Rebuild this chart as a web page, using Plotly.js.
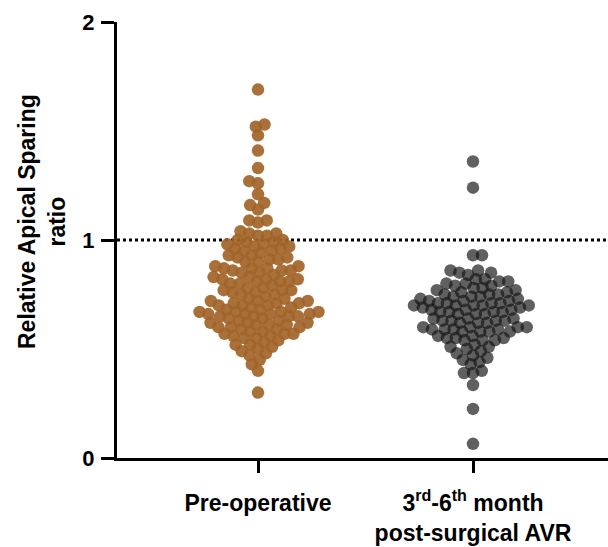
<!DOCTYPE html>
<html>
<head>
<meta charset="utf-8">
<script src="https://cdn.plot.ly/plotly-3.0.1.min.js"></script>
<style>html,body{margin:0;padding:0;background:#fff;}#chart{width:608px;height:547px;}</style>
</head>
<body>
<div id="chart"></div>
<script>
const categories = ['Pre-operative', '3rd-6th month post-surgical AVR'];
const tickLabels = ['<b>Pre-operative</b>', '<b>3<sup>rd</sup>-6<sup>th</sup> month</b><br><b>post-surgical AVR</b>'];
const yTickVals = [0, 1, 2];
const referenceLine = 1;

const preOperative = [
  1.69, 1.53, 1.52, 1.48, 1.41, 1.33, 1.27, 1.26, 1.21, 1.17, 1.16, 1.14, 1.09, 1.09, 1.08,
  1.04, 1.03, 1.03, 1.02, 1.02,
  1.00, 0.99, 0.99, 0.98, 0.98, 1.00,
  0.97, 0.96, 0.96, 0.95, 0.95, 0.97, 0.94,
  0.93, 0.92, 0.92, 0.91, 0.91, 0.90, 0.90, 0.93,
  0.88, 0.87, 0.87, 0.86, 0.86, 0.85, 0.85, 0.88, 0.84, 0.86, 0.87,
  0.83, 0.82, 0.82, 0.81, 0.81, 0.80, 0.80, 0.83, 0.79, 0.82, 0.81,
  0.78, 0.77, 0.77, 0.76, 0.76, 0.75, 0.75, 0.78, 0.74, 0.77,
  0.73, 0.72, 0.72, 0.71, 0.71, 0.70, 0.70, 0.73, 0.69, 0.72, 0.71, 0.70, 0.69,
  0.68, 0.67, 0.67, 0.66, 0.66, 0.65, 0.65, 0.68, 0.64, 0.67, 0.66, 0.65, 0.64, 0.66, 0.67, 0.65,
  0.63, 0.62, 0.62, 0.61, 0.61, 0.60, 0.60, 0.63, 0.59, 0.62, 0.61, 0.60, 0.59,
  0.58, 0.57, 0.57, 0.56, 0.56, 0.55, 0.55, 0.58, 0.54, 0.57,
  0.53, 0.52, 0.51, 0.50, 0.52, 0.49,
  0.48, 0.47, 0.45,
  0.43, 0.40, 0.30
];

const postSurgical = [
  1.36, 1.24, 0.93, 0.93,
  0.86, 0.85, 0.85, 0.84, 0.86,
  0.82, 0.81, 0.81, 0.80, 0.82, 0.80,
  0.79, 0.78, 0.78, 0.77, 0.79, 0.77,
  0.76, 0.75, 0.75, 0.74, 0.74, 0.73, 0.76, 0.75, 0.74, 0.73,
  0.72, 0.71, 0.71, 0.70, 0.70, 0.69, 0.72, 0.71, 0.70, 0.70, 0.69, 0.71, 0.72, 0.70,
  0.68, 0.67, 0.67, 0.66, 0.66, 0.68, 0.67, 0.66, 0.68, 0.67,
  0.64, 0.63, 0.63, 0.62, 0.62, 0.64, 0.63, 0.62, 0.64, 0.63,
  0.60, 0.59, 0.59, 0.58, 0.58, 0.60, 0.59, 0.58, 0.60, 0.59, 0.58, 0.60,
  0.56, 0.55, 0.55, 0.54, 0.54, 0.56, 0.55, 0.54,
  0.52, 0.51, 0.50, 0.49, 0.51,
  0.48, 0.47, 0.46,
  0.45, 0.44, 0.43,
  0.40, 0.39, 0.39,
  0.335, 0.225, 0.065
];

// Layout constants
const W = 608, H = 547;
const M = {l: 117, r: 0, t: 22, b: 89};
const plotW = W - M.l - M.r, plotH = H - M.t - M.b;
const yRange = [0, 2];
const xRange = [-0.656, 1.628];
const pxPerX = plotW / (xRange[1] - xRange[0]);
const pxPerY = plotH / (yRange[1] - yRange[0]);
const markerSize = 12.5;
const collide = 9;

// Beeswarm offsets computed from the values in pixel space
function swarm(vals) {
  const order = vals.map((v, i) => i).sort((a, b) => vals[a] - vals[b]);
  const placed = [];
  const xs = new Array(vals.length).fill(0);
  let flip = 1;
  for (const i of order) {
    const y = vals[i] * pxPerY;
    const iv = [];
    for (const p of placed) {
      const dy = Math.abs(p.y - y);
      if (dy < collide) {
        const dx = Math.sqrt(collide * collide - dy * dy);
        iv.push([p.x - dx, p.x + dx]);
      }
    }
    const cands = [0];
    iv.forEach(r => { cands.push(r[0], r[1]); });
    cands.sort((a, b) => (Math.abs(a) - Math.abs(b)) || (flip * (a - b)));
    let x = 0;
    for (const c of cands) {
      if (iv.every(r => c <= r[0] + 1e-6 || c >= r[1] - 1e-6)) { x = c; break; }
    }
    flip = -flip;
    placed.push({x: x, y: y});
    xs[i] = x;
  }
  return xs;
}

function trace(vals, idx, color) {
  const off = swarm(vals);
  return {
    type: 'scatter', mode: 'markers', name: categories[idx],
    x: off.map(o => idx + o / pxPerX), y: vals,
    marker: {size: markerSize, color: color, line: {width: 0}},
    hoverinfo: 'y', showlegend: false, cliponaxis: false
  };
}

const fontFam = 'Liberation Sans, Arial, Helvetica, sans-serif';
const data = [
  trace(preOperative, 0, 'rgba(162,100,40,0.92)'),
  trace(postSurgical, 1, 'rgba(20,20,20,0.68)')
];

const layout = {
  width: W, height: H,
  margin: M,
  paper_bgcolor: '#fff', plot_bgcolor: '#fff',
  font: {family: fontFam, color: '#000'},
  xaxis: {
    range: xRange, tickvals: [0, 1], ticktext: tickLabels,
    showline: true, linewidth: 3, linecolor: '#000',
    ticks: 'outside', ticklen: 12, tickwidth: 3, tickcolor: '#000',
    showgrid: false, zeroline: false, fixedrange: true,
    tickfont: {size: 23, family: fontFam, color: '#000'},
    ticklabelstandoff: 10
  },
  yaxis: {
    range: yRange, tickvals: yTickVals, ticktext: yTickVals.map(v => '<b>' + v + '</b>'),
    showline: true, linewidth: 3, linecolor: '#000',
    ticks: 'outside', ticklen: 13, tickwidth: 3, tickcolor: '#000',
    showgrid: false, zeroline: false, fixedrange: true,
    tickfont: {size: 22, family: fontFam, color: '#000'},
    ticklabelstandoff: 2
  },
  shapes: [{
    type: 'line', xref: 'paper', yref: 'y', x0: 0, x1: 1, y0: referenceLine, y1: referenceLine,
    line: {color: '#000', width: 3, dash: 'dot'}, layer: 'below'
  }],
  annotations: [{
    xref: 'paper', yref: 'paper',
    x: (42 - M.l) / plotW, y: (M.t + plotH - 222) / plotH,
    xanchor: 'center', yanchor: 'middle', textangle: -90, showarrow: false,
    text: '<b>Relative Apical Sparing</b><br><b>ratio</b>',
    font: {size: 23, family: fontFam, color: '#000'}
  }]
};

Plotly.newPlot('chart', data, layout, {displayModeBar: false, staticPlot: true});
</script>
</body>
</html>
